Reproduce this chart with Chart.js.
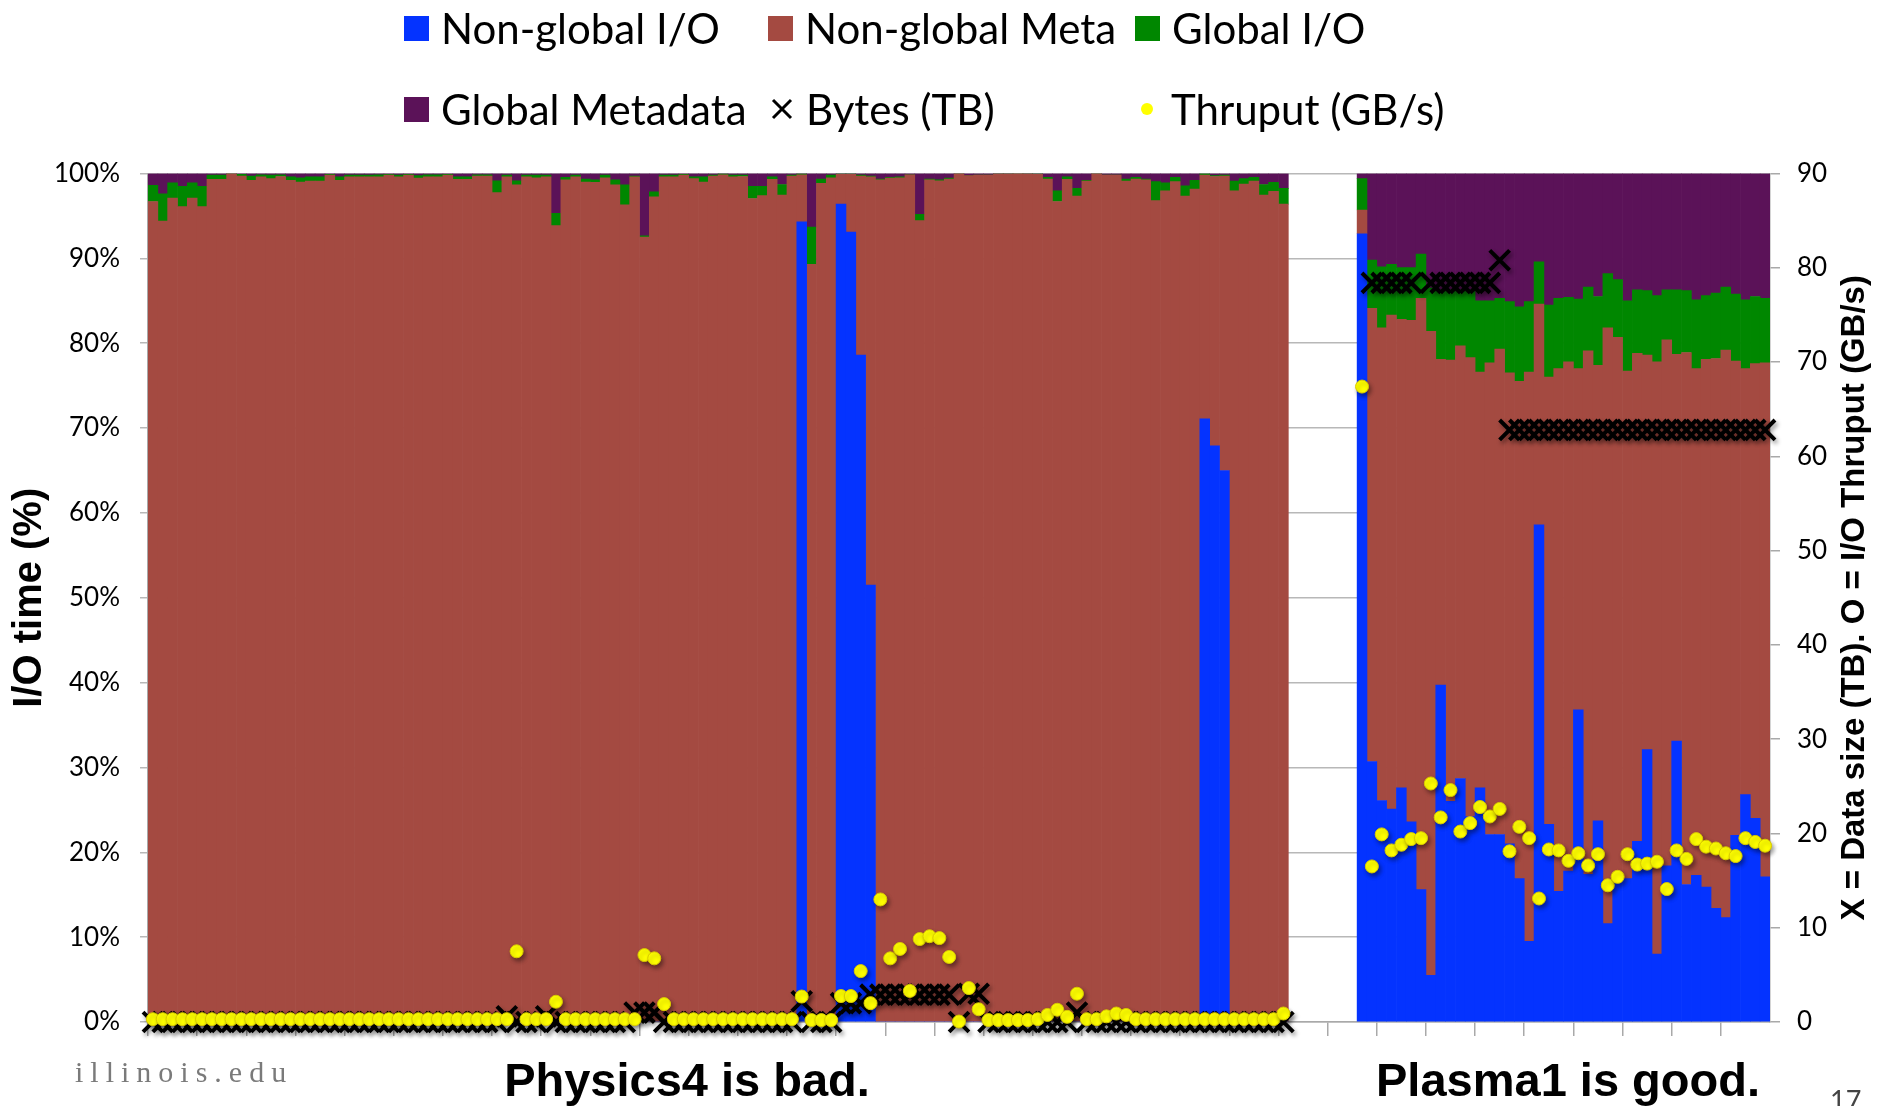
<!DOCTYPE html>
<html>
<head>
<meta charset="utf-8">
<script src="https://cdn.jsdelivr.net/npm/chart.js@4.4.1/dist/chart.umd.min.js"></script>
<style>
  html, body { margin: 0; padding: 0; background: #fff; }
  #page { position: relative; width: 1888px; height: 1106px; overflow: hidden; }
  #wrap { position: absolute; left: 0; top: 0; width: 1888px; height: 1106px; }
  .legend-item { position: absolute; display: flex; align-items: center; height: 52px;
    font-family: Lato, "Open Sans", sans-serif; font-size: 42px; color: #000; white-space: nowrap; }
  .legend-item svg { margin-right: 12px; }
  .caption { position: absolute; top: 1056px; font-family: "Liberation Sans", Arial, sans-serif;
    font-weight: bold; font-size: 47px; line-height: 47px; white-space: nowrap; transform: translateX(-50%); color: #000; }
  #site { position: absolute; left: 75px; top: 1057px; font-family: "Liberation Serif", serif;
    font-size: 30px; line-height: 30px; letter-spacing: 7px; color: #7a7a7a; }
  #slide { position: absolute; left: 1830px; top: 1086px; font-family: Lato, sans-serif;
    font-size: 27px; line-height: 27px; color: #444; }
</style>
</head>
<body>
<div id="page">
  <div id="wrap"><canvas id="grafico-io"></canvas></div>
  <div id="legend"></div>
  <div class="caption" style="left:687px">Physics4 is bad.</div>
  <div class="caption" style="left:1568px">Plasma1 is good.</div>
  <div id="site">illinois.edu</div>
  <div id="slide">17</div>
</div>
<script>
// Physics4 runs (116 jobs), % of I/O time per category
const physicsIO = [
  0, 0, 0, 0, 0, 0, 0, 0, 0, 0,
  0, 0, 0, 0, 0, 0, 0, 0, 0, 0,
  0, 0, 0, 0, 0, 0, 0, 0, 0, 0,
  0, 0, 0, 0, 0, 0, 0, 0, 0, 0,
  0, 0, 0, 0, 0, 0, 0, 0, 0, 0,
  0, 0, 0, 0, 0, 0, 0, 0, 0, 0,
  0, 0, 0, 0, 0, 0, 94.3, 0, 0, 0,
  96.4, 93.1, 78.6, 51.5, 0, 0, 0, 0, 0, 0,
  0, 0, 0, 0, 0, 0, 0, 0, 0, 0,
  0, 0, 0, 0, 0, 0, 0, 0, 0, 0,
  0, 0, 0, 0, 0, 0, 0, 71.1, 67.9, 65.0,
  0, 0, 0, 0, 0, 0
];
const physicsMeta = [
  96.7, 94.4, 97.1, 96.1, 97.1, 96.1, 99.3, 99.3, 100, 99.7,
  99.2, 99.6, 99.4, 99.65, 99.2, 99.0, 99.1, 99.1, 99.8, 99.2,
  99.6, 99.6, 99.6, 99.6, 99.8, 99.6, 99.8, 99.45, 99.6, 99.6,
  99.8, 99.3, 99.3, 99.7, 99.7, 97.75, 99.6, 98.65, 99.6, 99.5,
  99.6, 93.85, 99.25, 99.6, 99.0, 98.95, 99.5, 98.65, 96.3, 99.6,
  92.5, 97.25, 99.6, 99.6, 99.8, 99.4, 99.0, 99.7, 99.85, 99.6,
  99.65, 97.05, 97.4, 99.3, 97.45, 99.7, 5.55, 89.3, 98.85, 99.5,
  3.5, 6.8, 21.1, 48.1, 99.25, 99.45, 99.5, 99.85, 94.45, 99.25,
  99.15, 99.35, 100, 99.75, 99.8, 99.8, 99.95, 99.95, 100, 99.95,
  99.9, 99.35, 96.7, 99.3, 97.35, 99.1, 100, 99.8, 99.8, 99.1,
  99.35, 99.25, 96.8, 97.95, 99.05, 97.35, 98.15, 28.7, 31.75, 34.7,
  97.95, 98.75, 99.1, 97.45, 97.9, 96.4
];
const physicsGlobalIO = [
  1.9, 3.2, 1.8, 2.4, 1.8, 2.4, 0.5, 0.5, 0, 0.2,
  0.5, 0.25, 0.4, 0.2, 0.4, 0.5, 0.5, 0.5, 0.1, 0.4,
  0.2, 0.2, 0.2, 0.25, 0.1, 0.2, 0.1, 0.3, 0.25, 0.25,
  0.1, 0.3, 0.3, 0.15, 0.15, 1.4, 0.2, 0.5, 0.2, 0.3,
  0.2, 1.45, 0.3, 0.2, 0.35, 0.3, 0.3, 0.6, 2.35, 0.1,
  0.15, 0.6, 0.2, 0.2, 0.1, 0.2, 0.6, 0.1, 0.1, 0.2,
  0.15, 1.45, 1.1, 0.3, 1.25, 0.1, 0.1, 4.4, 0.5, 0.3,
  0.05, 0.05, 0.1, 0.1, 0.1, 0.1, 0.1, 0, 0.75, 0.1,
  0.1, 0.1, 0, 0, 0, 0, 0, 0, 0, 0,
  0.05, 0.2, 1.25, 0.3, 0.9, 0.1, 0, 0, 0, 0.25,
  0.2, 0.1, 2.25, 0.95, 0.5, 1.2, 1.05, 0.2, 0.1, 0.1,
  1.15, 0.65, 0.45, 1.25, 1.05, 1.85
];
const physicsGlobalMeta = [
  1.4, 2.4, 1.1, 1.5, 1.1, 1.5, 0.2, 0.2, 0, 0.1,
  0.3, 0.15, 0.2, 0.15, 0.4, 0.5, 0.4, 0.4, 0.1, 0.4,
  0.2, 0.2, 0.2, 0.15, 0.1, 0.2, 0.1, 0.25, 0.15, 0.15,
  0.1, 0.4, 0.4, 0.15, 0.15, 0.85, 0.2, 0.85, 0.2, 0.2,
  0.2, 4.7, 0.45, 0.2, 0.65, 0.75, 0.2, 0.75, 1.35, 0.3,
  7.35, 2.15, 0.2, 0.2, 0.1, 0.4, 0.4, 0.2, 0.05, 0.2,
  0.2, 1.5, 1.5, 0.4, 1.3, 0.2, 0.05, 6.3, 0.65, 0.2,
  0.05, 0.05, 0.2, 0.3, 0.65, 0.45, 0.4, 0.15, 4.8, 0.65,
  0.75, 0.55, 0, 0.25, 0.2, 0.2, 0.05, 0.05, 0, 0.05,
  0.05, 0.45, 2.05, 0.4, 1.75, 0.8, 0, 0.2, 0.2, 0.65,
  0.45, 0.65, 0.95, 1.1, 0.45, 1.45, 0.8, 0, 0.25, 0.2,
  0.9, 0.6, 0.45, 1.3, 1.05, 1.75
];
const physicsBytes = [
  0, 0, 0, 0, 0, 0, 0, 0, 0, 0,
  0, 0, 0, 0, 0, 0, 0, 0, 0, 0,
  0, 0, 0, 0, 0, 0, 0, 0, 0, 0,
  0, 0, 0, 0, 0, 0, 0.6, 0, 0, 0,
  0.6, 0, 0, 0, 0, 0, 0, 0, 0, 1.0,
  1.0, 1.0, 0, 0, 0, 0, 0, 0, 0, 0,
  0, 0, 0, 0, 0, 0, 2.2, 0, 0, 0,
  2.0, 2.0, 2.0, 2.9, 2.9, 2.9, 2.9, 2.9, 2.9, 2.9,
  2.9, 2.9, 0, 3.0, 3.0, 0, 0, 0, 0, 0,
  0, 0, 0, 0, 1.0, 0, 0, 0, 0, 0,
  0, 0, 0, 0, 0, 0, 0, 0, 0, 0,
  0, 0, 0, 0, 0, 0
];
const physicsThruput = [
  0.3, 0.3, 0.3, 0.3, 0.3, 0.3, 0.3, 0.3, 0.3, 0.3,
  0.3, 0.3, 0.3, 0.3, 0.3, 0.3, 0.3, 0.3, 0.3, 0.3,
  0.3, 0.3, 0.3, 0.3, 0.3, 0.3, 0.3, 0.3, 0.3, 0.3,
  0.3, 0.3, 0.3, 0.3, 0.3, 0.3, 0.3, 7.5, 0.3, 0.3,
  0.3, 2.15, 0.3, 0.3, 0.3, 0.3, 0.3, 0.3, 0.3, 0.3,
  7.1, 6.75, 1.9, 0.3, 0.3, 0.3, 0.3, 0.3, 0.3, 0.3,
  0.3, 0.3, 0.3, 0.3, 0.3, 0.3, 2.7, 0.2, 0.2, 0.2,
  2.75, 2.75, 5.4, 2.0, 13.0, 6.75, 7.75, 3.3, 8.8, 9.1,
  8.9, 6.9, 0.05, 3.6, 1.35, 0.2, 0.2, 0.2, 0.2, 0.2,
  0.3, 0.75, 1.3, 0.55, 3.0, 0.3, 0.3, 0.6, 0.9, 0.75,
  0.3, 0.3, 0.3, 0.3, 0.3, 0.3, 0.3, 0.3, 0.3, 0.3,
  0.3, 0.3, 0.3, 0.3, 0.3, 0.9
];

// Plasma1 runs (42 jobs)
const plasmaIO = [
  92.9, 30.7, 26.1, 25.1, 27.6, 23.6, 15.6, 5.5, 39.7, 26.0,
  28.7, 24.2, 27.6, 22.1, 22.1, 21.0, 16.9, 9.5, 58.6, 23.3,
  15.4, 17.8, 36.8, 17.4, 23.7, 11.6, 16.9, 16.9, 21.3, 32.1,
  8.0, 18.4, 33.1, 16.2, 17.3, 15.9, 13.4, 12.3, 22.0, 26.8,
  24.0, 17.1
];
const plasmaMeta = [
  2.8, 53.4, 55.7, 58.2, 55.2, 59.1, 69.7, 75.9, 38.4, 52.0,
  51.0, 54.1, 49.0, 55.6, 57.2, 55.5, 58.6, 67.1, 26.0, 52.7,
  61.6, 60.0, 40.2, 61.7, 53.7, 70.2, 63.8, 59.8, 57.5, 46.5,
  69.8, 62.0, 45.6, 62.7, 59.7, 62.2, 64.8, 66.9, 55.9, 50.2,
  53.6, 60.6
];
const plasmaGlobalIO = [
  3.7, 5.7, 7.2, 6.0, 6.1, 6.2, 5.2, 5.1, 8.2, 8.3,
  6.6, 8.0, 8.4, 7.3, 6.0, 8.4, 8.8, 8.3, 5.0, 8.5,
  8.3, 7.6, 8.2, 7.5, 8.1, 6.4, 6.8, 8.3, 7.5, 7.6,
  7.8, 5.9, 7.6, 7.3, 8.1, 7.5, 7.7, 7.4, 7.9, 8.1,
  7.9, 7.6
];
const plasmaGlobalMeta = [
  0.6, 10.2, 11.0, 10.7, 11.1, 11.1, 9.5, 13.5, 13.7, 13.7,
  13.7, 13.7, 15.0, 15.0, 14.7, 15.1, 15.7, 15.1, 10.4, 15.5,
  14.7, 14.6, 14.8, 13.4, 14.5, 11.8, 12.5, 15.0, 13.7, 13.8,
  14.4, 13.7, 13.7, 13.8, 14.9, 14.4, 14.1, 13.4, 14.2, 14.9,
  14.5, 14.7
];
const plasmaBytes = [
  null, 78.4, 78.4, 78.4, 78.4, 78.4, null, 78.4, 78.4, 78.4,
  78.4, 78.4, 78.4, 78.4, 80.8, 62.8, 62.8, 62.8, 62.8, 62.8,
  62.8, 62.8, 62.8, 62.8, 62.8, 62.8, 62.8, 62.8, 62.8, 62.8,
  62.8, 62.8, 62.8, 62.8, 62.8, 62.8, 62.8, 62.8, 62.8, 62.8,
  62.8, 62.8
];
const plasmaThruput = [
  67.4, 16.5, 19.9, 18.2, 18.8, 19.4, 19.5, 25.3, 21.7, 24.6,
  20.2, 21.1, 22.8, 21.8, 22.6, 18.1, 20.7, 19.5, 13.1, 18.3,
  18.2, 17.1, 17.9, 16.6, 17.8, 14.5, 15.4, 17.8, 16.7, 16.8,
  17.0, 14.1, 18.2, 17.3, 19.4, 18.6, 18.4, 17.9, 17.6, 19.5,
  19.1, 18.7
];

const gapSlots = 7;
const rightTitle = "X = Data size (TB). O = I/O Thruput (GB/s)";

// one category per job, empty slots separate the two applications
const labels = [
  ...physicsIO.map((_, i) => "Physics4 #" + (i + 1)),
  ...Array.from({ length: gapSlots }, () => ""),
  ...plasmaIO.map((_, i) => "Plasma1 #" + (i + 1)),
];
const joinRuns = (a, b) => [...a, ...Array(gapSlots).fill(null), ...b];

const barSet = (label, a, b, color) => ({
  type: "bar",
  label: label,
  data: joinRuns(a, b),
  backgroundColor: color,
  borderWidth: 0,
  barPercentage: 1,
  categoryPercentage: 1,
  yAxisID: "y",
  order: 2,
});

const ctxIO = document.getElementById("grafico-io").getContext("2d");
const chartIO = {
  labels: labels,
  datasets: [
    {
      type: "line",
      label: "Thruput (GB/s)",
      data: joinRuns(physicsThruput, plasmaThruput),
      yAxisID: "y2",
      showLine: false,
      pointStyle: "circle",
      pointRadius: 6.5,
      pointBackgroundColor: "#ffff00",
      pointBorderColor: "#d9c900",
      pointBorderWidth: 1,
      clip: false,
      order: 0,
    },
    {
      type: "line",
      label: "Bytes (TB)",
      data: joinRuns(physicsBytes, plasmaBytes),
      yAxisID: "y2",
      showLine: false,
      pointStyle: "crossRot",
      pointRadius: 14,
      pointBorderColor: "#000",
      pointBorderWidth: 4,
      clip: false,
      order: 1,
    },
    barSet("Non-global I/O", physicsIO, plasmaIO, "#0433ff"),
    barSet("Non-global Meta", physicsMeta, plasmaMeta, "#a44a41"),
    barSet("Global I/O", physicsGlobalIO, plasmaGlobalIO, "#008700"),
    barSet("Global Metadata", physicsGlobalMeta, plasmaGlobalMeta, "#5b1258"),
  ],
};

const tickFont = { family: "Lato", size: 26 };
const axisGrey = "#a9a9a9";

// soft drop shadow under the scatter markers
const markerShadow = {
  id: "markerShadow",
  beforeDatasetDraw(chart, args) {
    if (args.meta.type !== "line") return;
    const ctx = chart.ctx;
    ctx.save();
    ctx.shadowColor = "rgba(0,0,0,0.4)";
    ctx.shadowBlur = 4;
    ctx.shadowOffsetX = 2;
    ctx.shadowOffsetY = 3;
  },
  afterDatasetDraw(chart, args) {
    if (args.meta.type === "line") chart.ctx.restore();
  },
};

// right axis title reads bottom-to-top like the left one
const rightAxisTitle = {
  id: "rightAxisTitle",
  afterDraw(chart) {
    const s = chart.scales.y2;
    const area = chart.chartArea;
    const ctx = chart.ctx;
    ctx.save();
    ctx.translate(s.right - 33, (area.top + area.bottom) / 2);
    ctx.rotate(-Math.PI / 2);
    ctx.font = 'bold 33px "Liberation Sans", Arial, sans-serif';
    ctx.fillStyle = "#000";
    ctx.textAlign = "center";
    ctx.textBaseline = "middle";
    ctx.fillText(rightTitle, 0, 0);
    ctx.restore();
  },
};

const ioConfig = {
  type: "bar",
  data: chartIO,
  plugins: [markerShadow, rightAxisTitle],
  options: {
    responsive: true,
    maintainAspectRatio: false,
    animation: false,
    events: [],
    layout: { padding: { top: 173.5, left: 0, right: 0, bottom: 0 } },
    scales: {
      x: {
        stacked: true,
        offset: true,
        grid: {
          offset: true,
          drawOnChartArea: false,
          tickLength: 14,
          lineWidth: 1.5,
          color: (c) => (c.index % 5 === 0 ? axisGrey : "rgba(0,0,0,0)"),
        },
        border: { color: axisGrey, width: 1.5 },
        ticks: { autoSkip: false, maxRotation: 0, callback: () => "" },
        afterFit: (s) => { s.height = 84; },
      },
      y: {
        stacked: true,
        min: 0,
        max: 100,
        ticks: { stepSize: 10, padding: 20, font: tickFont, color: "#000", callback: (v) => v + "%" },
        grid: { color: "#b8b8b8", lineWidth: 1.5, tickLength: 8 },
        border: { color: axisGrey, width: 1.5 },
        title: {
          display: true,
          text: "I/O time (%)",
          color: "#000",
          font: { family: "Liberation Sans", size: 40, weight: "bold" },
          padding: { top: 6, bottom: 0 },
        },
        afterFit: (s) => { s.width = 148; },
      },
      y2: {
        position: "right",
        min: 0,
        max: 90,
        ticks: { stepSize: 10, padding: 17, font: tickFont, color: "#000" },
        grid: { drawOnChartArea: false, tickLength: 10, color: axisGrey, lineWidth: 1.5 },
        border: { color: axisGrey, width: 1.5 },
        afterFit: (s) => { s.width = 118; },
      },
    },
    plugins: {
      legend: { display: false },
      tooltip: { enabled: false },
    },
  },
};
const graficoIO = new Chart(ctxIO, ioConfig);

// legend in two rows of three, built from the datasets
const legendSlots = {
  "Non-global I/O": [404, 2],
  "Non-global Meta": [768, 2],
  "Global I/O": [1135, 2],
  "Global Metadata": [404, 83],
  "Bytes (TB)": [770, 83],
  "Thruput (GB/s)": [1140, 83],
};
const legendBox = document.getElementById("legend");
chartIO.datasets.forEach((ds) => {
  const [left, top] = legendSlots[ds.label];
  const item = document.createElement("div");
  item.className = "legend-item";
  item.style.left = left + "px";
  item.style.top = top + "px";
  let mark;
  if (ds.type === "bar") {
    mark = '<svg width="25" height="25"><rect width="25" height="25" fill="' + ds.backgroundColor + '"/></svg>';
  } else if (ds.pointStyle === "crossRot") {
    mark = '<svg width="24" height="24"><path d="M3 3L21 21M21 3L3 21" stroke="#000" stroke-width="3"/></svg>';
  } else {
    mark = '<svg width="14" height="14" style="margin-right:17px"><circle cx="7" cy="7" r="6" fill="' + ds.pointBackgroundColor + '"/></svg>';
  }
  item.innerHTML = mark + "<span>" + ds.label + "</span>";
  legendBox.appendChild(item);
});
</script>
</body>
</html>
